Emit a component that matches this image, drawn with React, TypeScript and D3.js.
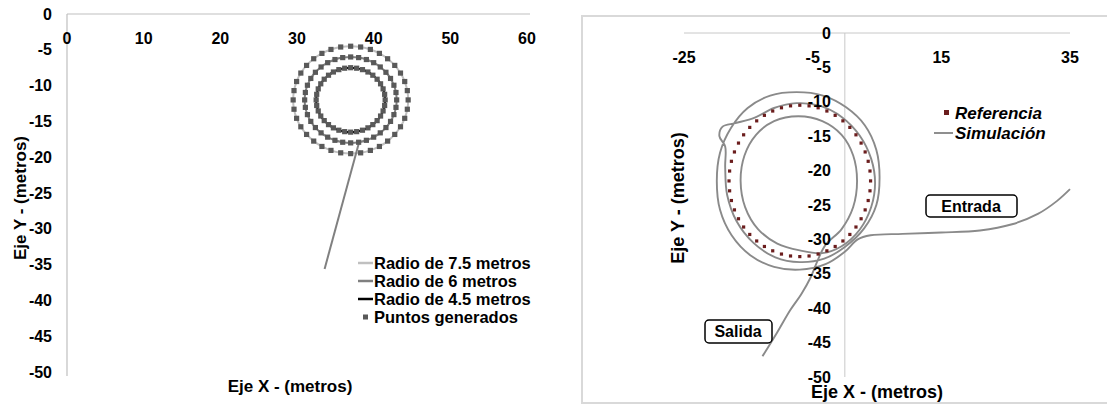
import * as d3 from "d3";

// ---- datos ----
const xTicksL = [0, 10, 20, 30, 40, 50, 60];
const yTicksL = [0, -5, -10, -15, -20, -25, -30, -35, -40, -45, -50];
const xTicksR = [-25, -5, 15, 35];
const yTicksR = [0, -5, -10, -15, -20, -25, -30, -35, -40, -45, -50];

const radio75: [number, number][] = [
  [44.5, -12], [44.39, -10.7], [44.05, -9.43], [43.5, -8.25], [42.75, -7.18], [41.82, -6.25],
  [40.75, -5.5], [39.57, -4.95], [38.3, -4.61], [37, -4.5], [35.7, -4.61], [34.43, -4.95],
  [33.25, -5.5], [32.18, -6.25], [31.25, -7.18], [30.5, -8.25], [29.95, -9.43], [29.61, -10.7],
  [29.5, -12], [29.61, -13.3], [29.95, -14.57], [30.5, -15.75], [31.25, -16.82], [32.18, -17.75],
  [33.25, -18.5], [34.43, -19.05], [35.7, -19.39], [37, -19.5], [38.3, -19.39], [39.57, -19.05],
  [40.75, -18.5], [41.82, -17.75], [42.75, -16.82], [43.5, -15.75], [44.05, -14.57], [44.39, -13.3],
];
const radio6: [number, number][] = [
  [43, -12], [42.91, -10.96], [42.64, -9.95], [42.2, -9], [41.6, -8.14], [40.86, -7.4],
  [40, -6.8], [39.05, -6.36], [38.04, -6.09], [37, -6], [35.96, -6.09], [34.95, -6.36],
  [34, -6.8], [33.14, -7.4], [32.4, -8.14], [31.8, -9], [31.36, -9.95], [31.09, -10.96],
  [31, -12], [31.09, -13.04], [31.36, -14.05], [31.8, -15], [32.4, -15.86], [33.14, -16.6],
  [34, -17.2], [34.95, -17.64], [35.96, -17.91], [37, -18], [38.04, -17.91], [39.05, -17.64],
  [40, -17.2], [40.86, -16.6], [41.6, -15.86], [42.2, -15], [42.64, -14.05], [42.91, -13.04],
];
const radio45: [number, number][] = [
  [41.5, -12], [41.43, -11.22], [41.23, -10.46], [40.9, -9.75], [40.45, -9.11], [39.89, -8.55],
  [39.25, -8.1], [38.54, -7.77], [37.78, -7.57], [37, -7.5], [36.22, -7.57], [35.46, -7.77],
  [34.75, -8.1], [34.11, -8.55], [33.55, -9.11], [33.1, -9.75], [32.77, -10.46], [32.57, -11.22],
  [32.5, -12], [32.57, -12.78], [32.77, -13.54], [33.1, -14.25], [33.55, -14.89], [34.11, -15.45],
  [34.75, -15.9], [35.46, -16.23], [36.22, -16.43], [37, -16.5], [37.78, -16.43], [38.54, -16.23],
  [39.25, -15.9], [39.89, -15.45], [40.45, -14.89], [40.9, -14.25], [41.23, -13.54], [41.43, -12.78],
];
const entrada6: [number, number][] = [[33.6, -35.6], [38.1, -17.9]];

const referencia: [number, number][] = [
  [4.0, -21.5], [3.91, -20.06], [3.63, -18.65], [3.16, -17.29], [2.53, -16.0], [1.73, -14.8],
  [0.78, -13.72], [-0.3, -12.77], [-1.5, -11.97], [-2.79, -11.34], [-4.15, -10.87], [-5.56, -10.59],
  [-7.0, -10.5], [-8.44, -10.59], [-9.85, -10.87], [-11.21, -11.34], [-12.5, -11.97], [-13.7, -12.77],
  [-14.78, -13.72], [-15.73, -14.8], [-16.53, -16.0], [-17.16, -17.29], [-17.63, -18.65], [-17.91, -20.06],
  [-18.0, -21.5], [-17.91, -22.94], [-17.63, -24.35], [-17.16, -25.71], [-16.53, -27.0], [-15.73, -28.2],
  [-14.78, -29.28], [-13.7, -30.23], [-12.5, -31.03], [-11.21, -31.66], [-9.85, -32.13], [-8.44, -32.41],
  [-7.0, -32.5], [-5.56, -32.41], [-4.15, -32.13], [-2.79, -31.66], [-1.5, -31.03], [-0.3, -30.23],
  [0.78, -29.28], [1.73, -28.2], [2.53, -27.0], [3.16, -25.71], [3.63, -24.35], [3.91, -22.94],
];

const simulacion: [number, number][] = [
  [35, -22.7], [33, -24.4], [30, -26.3], [26, -27.8], [21, -28.7], [15, -29.0], [9, -29.2], [4, -29.4], [2, -30.0],
  [0, -31.8], [-3, -33.6], [-7, -34.4], [-11, -34.0], [-14.7, -32.3], [-17.6, -29.4], [-19.4, -25.7], [-19.9, -21.5],
  [-19.4, -17.4], [-17.7, -13.8], [-15.1, -10.9], [-11.6, -9.1], [-7.5, -8.6], [-3.4, -9.1], [0.2, -10.8], [3.1, -13.4],
  [4.9, -17], [5.4, -21], [4.9, -25], [3.0, -28.4], [0, -31.1],
  [-3.2, -32.8], [-7, -33.3], [-10.8, -32.6], [-14.2, -30.5], [-16.8, -27.4], [-18.3, -23.5], [-18.6, -19.5],
  [-18.6, -16.5], [-19.5, -15], [-19, -13.6], [-17, -13.1], [-14, -12.3], [-11, -10.9], [-7.5, -10.2],
  [-3.8, -10.6], [-0.5, -12.2], [2.3, -14.9], [4.1, -18.3], [4.7, -21.8], [4.1, -25.3], [2.3, -28.6], [-0.5, -31.0],
  [-3.5, -32], [-7, -31.6], [-10.5, -30.6], [-13.5, -28.5], [-15.5, -25.3], [-16.2, -21.5], [-15.6, -17.8],
  [-13.8, -14.8], [-11, -12.8], [-7.2, -12.1], [-3.5, -12.8], [-0.5, -14.8], [1.3, -17.8], [1.9, -21.5],
  [1.3, -25.3], [-0.5, -28.5], [-3, -30.8],
  [-4.2, -33], [-5.3, -35.5], [-6.8, -38], [-8.5, -40.3], [-10.5, -43.5], [-12.8, -47.0],
];

const leyendaL = [
  { label: "Radio de 7.5 metros", color: "#c0c0c0", kind: "line" },
  { label: "Radio de 6 metros", color: "#808080", kind: "line" },
  { label: "Radio de 4.5 metros", color: "#000000", kind: "line" },
  { label: "Puntos generados", color: "#595959", kind: "square" },
];

const FONT = "'Liberation Sans', Arial, sans-serif";

const App = () => {
  // gráfico izquierdo
  const xL = d3.scaleLinear().domain([0, 60]).range([67, 527]);
  const yL = d3.scaleLinear().domain([0, -50]).range([14, 372]);
  // gráfico derecho
  const xR = d3.scaleLinear().domain([-25, 35]).range([684, 1070]);
  const yR = d3.scaleLinear().domain([0, -50]).range([33, 377]);

  const circL = d3
    .line<[number, number]>()
    .x((d) => xL(d[0]))
    .y((d) => yL(d[1]))
    .curve(d3.curveCatmullRomClosed);
  const segL = d3
    .line<[number, number]>()
    .x((d) => xL(d[0]))
    .y((d) => yL(d[1]));
  const simLine = d3
    .line<[number, number]>()
    .x((d) => xR(d[0]))
    .y((d) => yR(d[1]))
    .curve(d3.curveCatmullRom.alpha(0.5));

  const puntos = [...radio75, ...radio6, ...radio45];

  return (
    <svg
      width={1107}
      height={407}
      style={{ position: "absolute", left: 0, top: 0, background: "#fff" }}
      fontFamily={FONT}
      fontWeight="bold"
    >
      {/* ---------- izquierdo ---------- */}
      <line x1={xL(0)} x2={xL(60) + 3} y1={yL(0)} y2={yL(0)} stroke="#bfbfbf" strokeWidth={1.2} />
      <line x1={xL(0)} x2={xL(0)} y1={yL(0)} y2={yL(-50) + 4} stroke="#bfbfbf" strokeWidth={1.2} />
      {xTicksL.map((t) => (
        <text key={"xl" + t} x={xL(t)} y={38} textAnchor="middle" dominantBaseline="central" fontSize={16}>
          {t}
        </text>
      ))}
      {yTicksL.map((t) => (
        <text key={"yl" + t} x={52} y={yL(t)} textAnchor="end" dominantBaseline="central" fontSize={16}>
          {t}
        </text>
      ))}
      <text x={290} y={386} textAnchor="middle" dominantBaseline="central" fontSize={17}>
        Eje X - (metros)
      </text>
      <text
        transform={`translate(20,${198}) rotate(-90)`}
        textAnchor="middle"
        dominantBaseline="central"
        fontSize={17}
      >
        Eje Y - (metros)
      </text>

      <path d={circL(radio75) || ""} fill="none" stroke="#c0c0c0" strokeWidth={2} />
      <path d={circL(radio6) || ""} fill="none" stroke="#808080" strokeWidth={2} />
      <path d={segL(entrada6) || ""} fill="none" stroke="#808080" strokeWidth={2} />
      <path d={circL(radio45) || ""} fill="none" stroke="#000" strokeWidth={2} />
      {puntos.map((d, i) => (
        <rect key={"p" + i} x={xL(d[0]) - 2.6} y={yL(d[1]) - 2.6} width={5.2} height={5.2} fill="#595959" />
      ))}

      {leyendaL.map((it, i) => {
        const y = 263 + i * 18;
        return (
          <g key={it.label}>
            {it.kind === "line" ? (
              <line x1={358} x2={373} y1={y} y2={y} stroke={it.color} strokeWidth={2.5} />
            ) : (
              <rect x={363} y={y - 2.5} width={5} height={5} fill={it.color} />
            )}
            <text x={374} y={y} dominantBaseline="central" fontSize={16.5}>
              {it.label}
            </text>
          </g>
        );
      })}

      {/* ---------- derecho ---------- */}
      <rect x={582} y={16} width={540} height={387} fill="#fff" stroke="#d9d9d9" strokeWidth={2} />
      <line x1={xR(-25)} x2={xR(35)} y1={yR(0)} y2={yR(0)} stroke="#c8c8c8" strokeWidth={1} />
      <line x1={xR(0)} x2={xR(0)} y1={yR(0)} y2={yR(-50)} stroke="#c8c8c8" strokeWidth={1} />

      <path d={simLine(simulacion) || ""} fill="none" stroke="#8a8a8a" strokeWidth={1.9} />
      {referencia.map((d, i) => (
        <rect key={"r" + i} x={xR(d[0]) - 1.6} y={yR(d[1]) - 1.6} width={3.2} height={3.2} fill="#6b1d1d" />
      ))}

      {xTicksR.map((t) => (
        <text key={"xr" + t} x={xR(t)} y={57} textAnchor="middle" dominantBaseline="central" fontSize={16}>
          {t}
        </text>
      ))}
      {yTicksR.map((t) => (
        <text key={"yr" + t} x={xR(0) - 14} y={yR(t)} textAnchor="end" dominantBaseline="central" fontSize={16}>
          {t}
        </text>
      ))}
      <text x={877} y={392} textAnchor="middle" dominantBaseline="central" fontSize={18}>
        Eje X - (metros)
      </text>
      <text
        transform={`translate(678,${198}) rotate(-90)`}
        textAnchor="middle"
        dominantBaseline="central"
        fontSize={18}
      >
        Eje Y - (metros)
      </text>

      <rect x={944} y={110} width={5} height={5} fill="#6b1d1d" />
      <text x={955} y={113} dominantBaseline="central" fontSize={17} fontStyle="italic">
        Referencia
      </text>
      <line x1={934} x2={953} y1={133} y2={133} stroke="#8a8a8a" strokeWidth={1.9} />
      <text x={955} y={133} dominantBaseline="central" fontSize={17} fontStyle="italic">
        Simulación
      </text>

      <rect x={926} y={195} width={91} height={22} rx={4} fill="#fff" stroke="#000" strokeWidth={1.5} />
      <text x={971} y={206} textAnchor="middle" dominantBaseline="central" fontSize={16}>
        Entrada
      </text>
      <rect x={705} y={320} width={67} height={23} rx={4} fill="#fff" stroke="#000" strokeWidth={1.5} />
      <text x={738} y={331.5} textAnchor="middle" dominantBaseline="central" fontSize={16}>
        Salida
      </text>
    </svg>
  );
};

export default App;
